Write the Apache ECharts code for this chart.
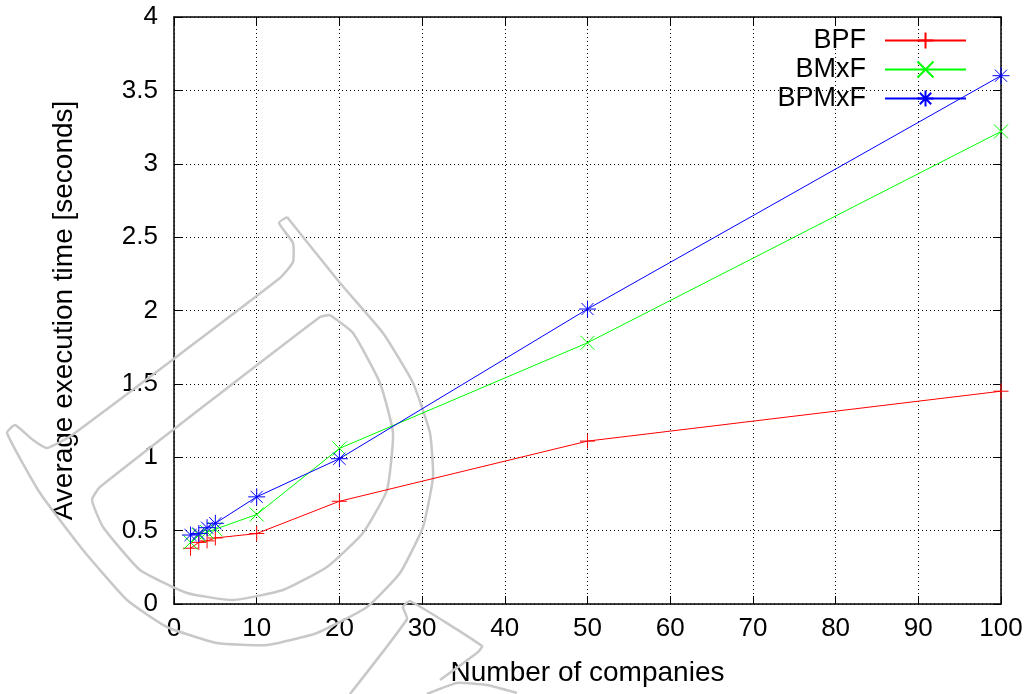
<!DOCTYPE html>
<html>
<head>
<meta charset="utf-8">
<script src="https://cdn.jsdelivr.net/npm/echarts@6/dist/echarts.min.js"></script>
<style>html,body{margin:0;padding:0;background:#fff}#c{width:1033px;height:694px}</style>
</head>
<body>
<div id="c"></div>
<script>
// ---- data ----
const companies = [2, 3, 4, 5, 10, 20, 50, 100];
const seriesNames = ['BPF', 'BMxF', 'BPMxF'];
const bpf   = [0.38, 0.42, 0.43, 0.45, 0.48, 0.70, 1.11, 1.45];
const bmxf  = [0.42, 0.47, 0.49, 0.51, 0.61, 1.06, 1.78, 3.22];
const bpmxf = [0.47, 0.48, 0.52, 0.55, 0.73, 0.99, 2.01, 3.60];
const xTitle = 'Number of companies';
const yTitle = 'Average execution time [seconds]';

// ---- styling ----
const colors = ['#ff0000', '#00ff00', '#0000ff'];
const symbols = [
  'path://M0,-7L0,7M-7,0L7,0',
  'path://M-5,-5L5,5M-5,5L5,-5',
  'path://M0,-7L0,7M-7,0L7,0M-5,-5L5,5M-5,5L5,-5'
];
const symbolSizes = [15, 14, 17];
const font = 'Liberation Sans, Arial, sans-serif';

function pairs(xs, ys) { return xs.map((x, i) => [x, ys[i]]); }
const allValues = [bpf, bmxf, bpmxf];

const series = seriesNames.map((name, i) => ({
  name: name,
  type: 'line',
  data: pairs(companies, allValues[i]),
  symbol: symbols[i],
  symbolSize: symbolSizes[i],
  symbolKeepAspect: true,
  showAllSymbol: true,
  lineStyle: { color: colors[i], width: 1 },
  itemStyle: { color: 'rgba(0,0,0,0)', borderColor: colors[i], borderWidth: 1 },
  emphasis: { disabled: true },
  animation: false,
  z: 5
}));

// watermark-like decoration (pixel coordinates)
const wmStyle = { stroke: '#c8c8c8', lineWidth: 2.5, fill: null };
const wmShapes = [
  [[287,217],[340,283],[383,333],[413,383],[430,433],[433,477],[423,527],[400,573],[367,607],[317,633],[267,645],[217,643],[167,627],[127,600],[83,550],[40,493],[7,433],[15,425],[33,440],[47,448],[72,435],[280,278],[293,262],[293,243],[279,223],[287,217]],
  [[330,315],[353,333],[380,383],[393,433],[387,490],[363,533],[327,567],[283,590],[233,600],[187,593],[140,570],[103,527],[92,500],[100,487],[320,317],[330,315]],
  [[350,694],[407,619],[403,607],[410,601],[482,646],[478,652],[440,680]],
  [[427,694],[457,683],[487,685],[517,693]]
];
const graphics = wmShapes.map(pts => ({
  type: 'polyline',
  shape: { points: pts, smooth: 0.15 },
  style: wmStyle,
  z: 1,
  silent: true
}));

const axisCommon = {
  axisLine: { show: true, onZero: false, lineStyle: { color: '#000', width: 1.5 } },
  axisTick: { show: true, inside: true, length: 8, lineStyle: { color: '#000', width: 1 } }
};

const option = {
  animation: false,
  backgroundColor: '#fff',
  textStyle: { fontFamily: font },
  graphic: graphics,
  grid: { left: 174, right: 32, top: 17, bottom: 90, containLabel: false },
  legend: {
    data: seriesNames,
    orient: 'vertical',
    right: 66,
    top: 27,
    padding: 0,
    align: 'right',
    itemWidth: 81,
    itemHeight: 20,
    itemGap: 2,
    selectedMode: false,
    textStyle: { fontSize: 27, fontFamily: font, color: '#000', lineHeight: 20, padding: [0, 14, 0, 0] }
  },
  xAxis: [
    Object.assign({
      type: 'value', position: 'bottom', min: 0, max: 100, interval: 10,
      name: xTitle, nameLocation: 'middle', nameGap: 55,
      nameTextStyle: { fontSize: 28, color: '#000', fontFamily: font },
      axisLabel: { fontSize: 26, color: '#000', margin: 12, fontFamily: font },
      splitLine: { show: true, lineStyle: { color: '#000', width: 1, type: [1, 3] } }
    }, axisCommon),
    Object.assign({
      type: 'value', position: 'top', min: 0, max: 100, interval: 10,
      axisLabel: { show: false }, splitLine: { show: false }
    }, axisCommon)
  ],
  yAxis: [
    Object.assign({
      type: 'value', position: 'left', min: 0, max: 4, interval: 0.5,
      name: yTitle, nameLocation: 'middle', nameGap: 96, nameRotate: 90,
      nameTextStyle: { fontSize: 28, color: '#000', fontFamily: font },
      axisLabel: { fontSize: 26, color: '#000', margin: 16, fontFamily: font },
      splitLine: { show: true, lineStyle: { color: '#000', width: 1, type: [1, 3] } }
    }, axisCommon),
    Object.assign({
      type: 'value', position: 'right', min: 0, max: 4, interval: 0.5,
      axisLabel: { show: false }, splitLine: { show: false }
    }, axisCommon)
  ],
  series: series
};

const chart = echarts.init(document.getElementById('c'), null, { renderer: 'canvas' });
chart.setOption(option);
</script>
</body>
</html>
